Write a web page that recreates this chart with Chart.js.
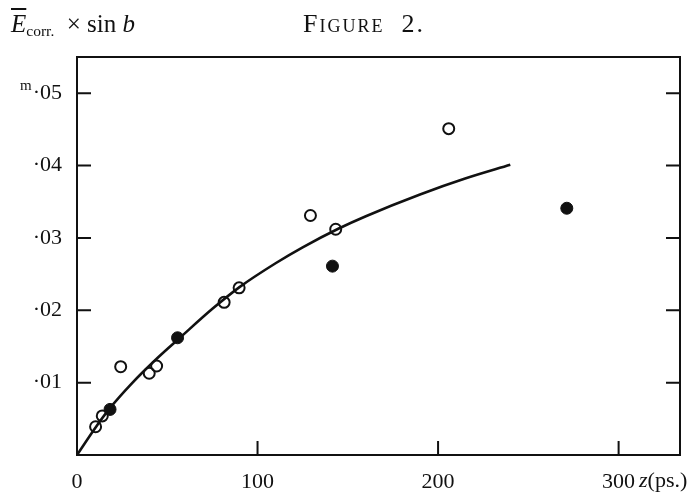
<!DOCTYPE html>
<html>
<head>
<meta charset="utf-8">
<script src="https://cdn.jsdelivr.net/npm/chart.js@4/dist/chart.umd.min.js"></script>
<style>
  body { margin: 0; background: #fff; }
  #wrap { position: relative; width: 696px; height: 493px; font-family: "Liberation Serif", "DejaVu Serif", serif; color: #111; }
  .t { position: absolute; white-space: nowrap; line-height: 1; }
  sub { font-size: 0.62em; vertical-align: -0.25em; }
</style>
</head>
<body>
<div id="wrap">
  <canvas id="chart" width="696" height="493"></canvas>
  <div class="t" style="left:11px; top:11px; font-size:25px;"><i style="text-decoration:overline;">E</i><sub>corr.</sub>&nbsp; × sin <i>b</i></div>
  <div class="t" style="left:303px; top:11px; font-size:26px; font-variant:small-caps; letter-spacing:2px;">Figure&nbsp; 2.</div>
  <div class="t" style="left:20px; top:78px; font-size:15px;">m</div>
  <div class="t" style="left:639px; top:469px; font-size:22px;"><i>z</i>(ps.)</div>
</div>
<script>
// open circles
const openX = [10.3, 14, 24.2, 40, 44.1, 81.5, 89.8, 129.3, 143.3, 205.9];
const openY = [0.0039, 0.0054, 0.0122, 0.0113, 0.0123, 0.0211, 0.0231, 0.0331, 0.0312, 0.0451];
// filled circles
const filledX = [18.3, 55.7, 141.5, 271.3];
const filledY = [0.0063, 0.0162, 0.0261, 0.0341];
// drawn curve
const curveX = [0, 10, 18, 30, 45, 57, 75, 90, 110, 125, 145, 160, 190, 215, 240];
const curveY = [0, 0.0037, 0.0064, 0.0098, 0.0135, 0.0162, 0.0202, 0.0232, 0.0265, 0.0287, 0.0313, 0.033, 0.036, 0.0382, 0.0401];

const xTicks = [0, 100, 200, 300];
const xTickLabels = ['0', '100', '200', '300'];
const yTicks = [0.01, 0.02, 0.03, 0.04, 0.05];
const yTickLabels = ['·01', '·02', '·03', '·04', '·05'];

const toPts = (xs, ys) => xs.map((x, i) => ({ x: x, y: ys[i] }));
const ink = '#111';

// frame and inward ticks
const frame = {
    id: 'frame',
    beforeDatasetsDraw(chart) {
        const { ctx, chartArea: a, scales } = chart;
        ctx.save();
        ctx.strokeStyle = ink;
        ctx.lineWidth = 2;
        ctx.strokeRect(a.left, a.top, a.right - a.left, a.bottom - a.top);
        ctx.beginPath();
        yTicks.forEach(v => {
            const py = scales.y.getPixelForValue(v);
            ctx.moveTo(a.left, py); ctx.lineTo(a.left + 14, py);
            ctx.moveTo(a.right, py); ctx.lineTo(a.right - 14, py);
        });
        xTicks.forEach(v => {
            if (v === 0) return;
            const px = scales.x.getPixelForValue(v);
            ctx.moveTo(px, a.bottom); ctx.lineTo(px, a.bottom - 14);
        });
        ctx.stroke();
        ctx.restore();
    }
};

new Chart(document.getElementById('chart'), {
    type: 'scatter',
    data: {
        datasets: [
            {
                type: 'line',
                data: toPts(curveX, curveY),
                borderColor: ink,
                borderWidth: 2.6,
                pointRadius: 0,
                cubicInterpolationMode: 'monotone',
                fill: false,
                order: 3
            },
            {
                data: toPts(openX, openY),
                pointRadius: 5.5,
                pointBorderWidth: 2,
                pointBorderColor: ink,
                pointBackgroundColor: 'rgba(0,0,0,0)',
                order: 1
            },
            {
                data: toPts(filledX, filledY),
                pointRadius: 6,
                pointBorderWidth: 1,
                pointBorderColor: ink,
                pointBackgroundColor: ink,
                order: 2
            }
        ]
    },
    options: {
        responsive: false,
        animation: false,
        layout: { padding: { top: 57, right: 16, left: 0, bottom: 0 } },
        plugins: { legend: { display: false }, tooltip: { enabled: false } },
        scales: {
            x: {
                type: 'linear',
                min: 0,
                max: 334,
                afterFit: s => { s.height = 38; },
                afterBuildTicks: s => { s.ticks = xTicks.map(v => ({ value: v })); },
                grid: { display: false },
                border: { display: false },
                ticks: {
                    padding: 6,
                    color: ink,
                    maxRotation: 0,
                    font: { family: '"Liberation Serif", serif', size: 22 },
                    callback: v => xTickLabels[xTicks.indexOf(v)]
                }
            },
            y: {
                type: 'linear',
                min: 0,
                max: 0.055,
                afterFit: s => { s.width = 77; },
                afterBuildTicks: s => { s.ticks = yTicks.map(v => ({ value: v })); },
                grid: { display: false },
                border: { display: false },
                ticks: {
                    padding: 7,
                    color: ink,
                    font: { family: '"Liberation Serif", serif', size: 22 },
                    callback: v => yTickLabels[yTicks.findIndex(t => Math.abs(t - v) < 1e-9)]
                }
            }
        }
    },
    plugins: [frame]
});
</script>
</body>
</html>
